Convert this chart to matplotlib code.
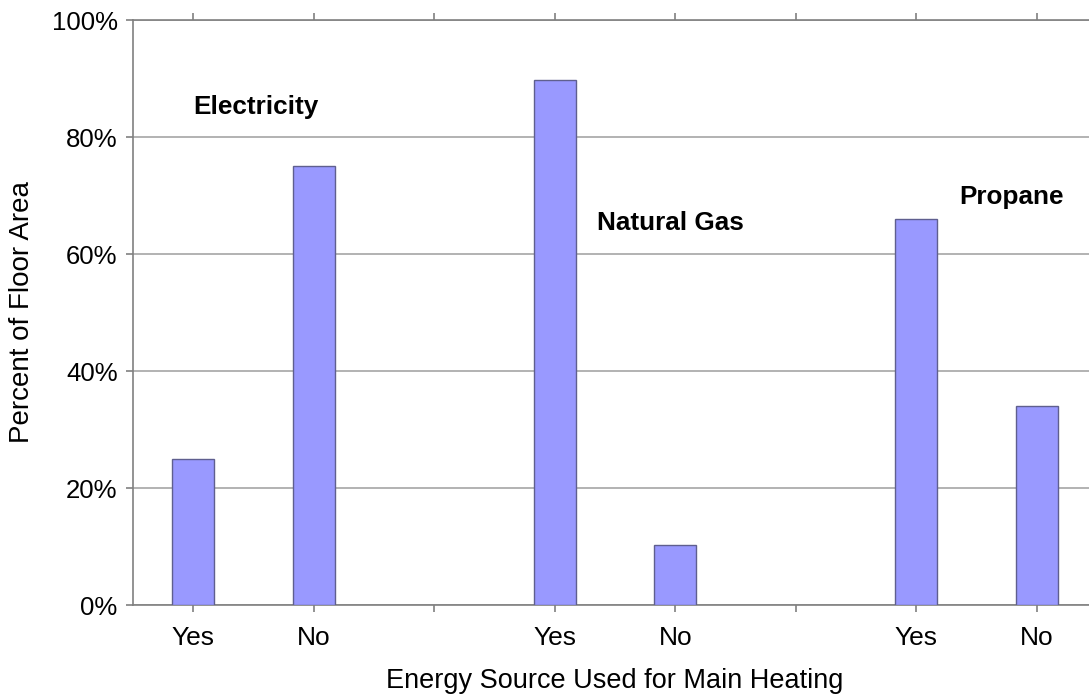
import numpy as np
import matplotlib.pyplot as plt
from matplotlib.ticker import PercentFormatter

plt.rcParams['font.family'] = ['Liberation Sans', 'DejaVu Sans']

## 8 slots on the x axis, two empty slots between the groups
slot_labels = ["Yes", "No", "", "Yes", "No", "", "Yes", "No"]
share = [25, 75, np.nan, 89.7, 10.2, np.nan, 66, 34]
groups = ["Electricity", "Natural Gas", "Propane"]
group_x = [0, 3.35, 6.36]
group_y = [85.1, 65.3, 69.7]

fig = plt.figure(figsize=(10.89, 6.98), dpi=100)
ax = fig.add_axes([0.1221, 0.1332, 0.8852, 0.8381])

x = np.arange(len(slot_labels))
vals = np.array(share)
ok = ~np.isnan(vals)
ax.bar(x[ok], vals[ok], width=0.35, color="#9999ff", edgecolor="#5f5f8f", linewidth=1, zorder=3)

for name, gx, gy in zip(groups, group_x, group_y):
    ax.text(gx, gy, name, fontsize=18.8, fontweight="bold", ha="left", va="center", zorder=4)

ax.set_xlim(-0.5, len(slot_labels) - 0.5)
ax.set_ylim(0, 100)
ax.set_yticks(np.arange(0, 101, 20))
ax.yaxis.set_major_formatter(PercentFormatter(decimals=0))
ax.set_xticks(x)
ax.set_xticklabels(slot_labels)
ax.grid(axis="y", color="#a6a6a6", linewidth=1.2, zorder=0)

for side in ["left", "bottom", "top"]:
    ax.spines[side].set_color("#808080")
    ax.spines[side].set_linewidth(1.2)
ax.spines["right"].set_visible(False)

ax.tick_params(axis="both", colors="#808080", labelcolor="black", labelsize=18.5, length=5, width=1.2)
ax.tick_params(axis="x", top=True, pad=10, labelsize=19)
ax.tick_params(axis="y", pad=6)

ax.set_xlabel("Energy Source Used for Main Heating", fontsize=19.5, labelpad=13)
ax.set_ylabel("Percent of Floor Area", fontsize=20, labelpad=12)

fig.savefig("out.png", dpi=100)
